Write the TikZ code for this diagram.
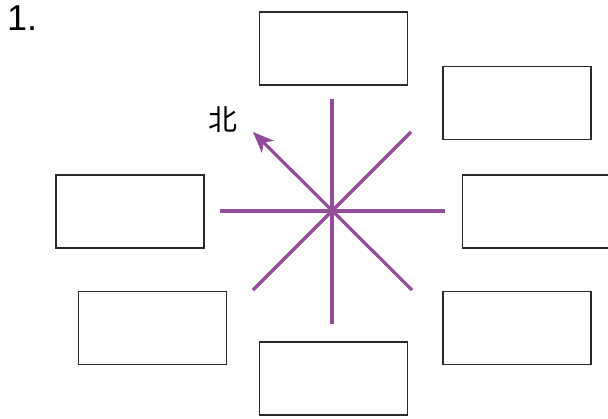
\documentclass[tikz,border=0pt]{standalone}
\usepackage{fontspec}
\setmainfont{Liberation Sans}
\newfontfamily\cjk{Noto Sans CJK SC}
\usetikzlibrary{arrows.meta}
\definecolor{starpurple}{RGB}{146,76,154}
\definecolor{boxline}{RGB}{45,40,40}
\begin{document}
\begin{tikzpicture}[x=1pt,y=-1pt,
  answerbox/.style={draw=boxline,line width=1.3pt,minimum width=148pt,minimum height=73pt,inner sep=0pt,fill=none},
  ray/.style={starpurple,line width=4.5pt},
  diag/.style={starpurple,line width=3.2pt}]
\useasboundingbox (0,0) rectangle (608,418);
\node[font=\fontsize{36}{40}\selectfont,anchor=north west,inner sep=0pt] (num) at (7,6) {1.};
\node[answerbox] (top) at (333.5,48.5) {};
\node[answerbox] (tr) at (517,103) {};
\node[answerbox] (r) at (536.5,211.5) {};
\node[answerbox] (l) at (130,211.5) {};
\node[answerbox] (bl) at (152.5,328) {};
\node[answerbox] (br) at (517,328) {};
\node[answerbox] (b) at (333.5,378.5) {};
\coordinate (c) at (332,211);
\coordinate (n) at (332,99);
\coordinate (s) at (332,324);
\coordinate (w) at (220,211);
\coordinate (e) at (445,211);
\coordinate (ne) at (411,132);
\coordinate (sw) at (253,290);
\coordinate (se) at (412,290);
\coordinate (nw) at (253,132);
\draw[ray] (n) -- (s);
\draw[ray] (w) -- (e);
\draw[diag] (sw) -- (ne);
\draw[diag,-{Stealth[length=21pt,width=17pt,inset=6pt]}] (se) -- (nw);
\node[font=\cjk\fontsize{29}{31}\selectfont,inner sep=0pt] (north) at (223,120) {北};
\end{tikzpicture}
\end{document}
